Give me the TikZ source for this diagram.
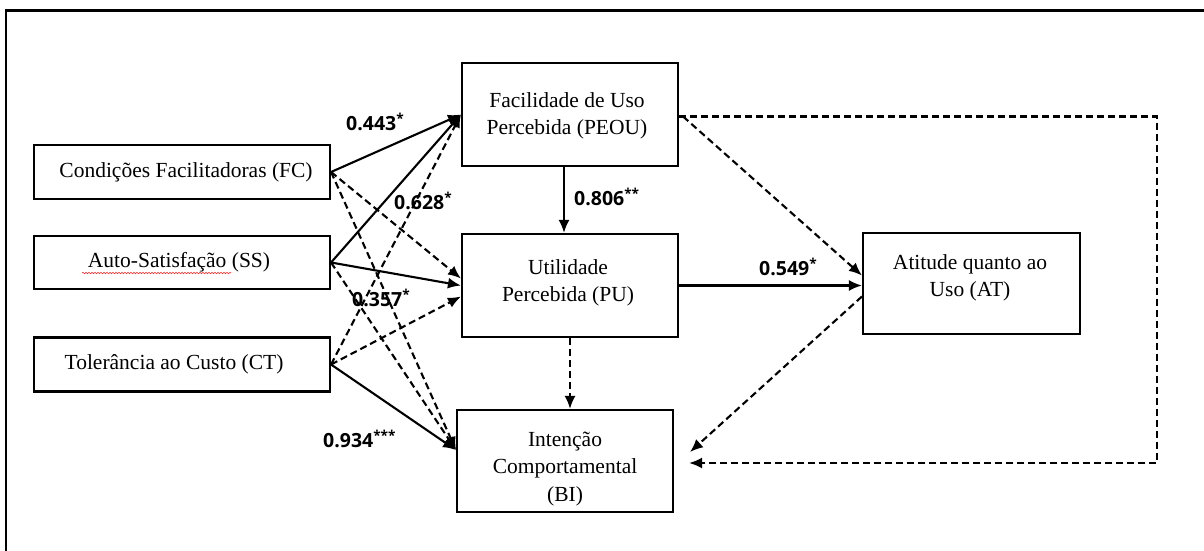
\documentclass[tikz,border=0pt]{standalone}
\usepackage{fontspec}
\setmainfont{Liberation Serif}
\newfontfamily\numfont{Open Sans}
\usetikzlibrary{arrows.meta,decorations.pathmorphing}
\begin{document}
\begin{tikzpicture}[x=1pt,y=-1pt,
  box/.style={draw, line width=2.1pt, rectangle, inner sep=0pt},
  boxtext/.style={align=center, inner sep=0pt,
    font=\fontsize{21.5}{27.5}\selectfont},
  solidarrow/.style={line width=2.1pt, -{Latex[length=13pt,width=11pt]}},
  dasharrow/.style={solidarrow, dash pattern=on 7pt off 4pt},
  coef/.style={font=\numfont\bfseries\fontsize{19.5}{19.5}\selectfont,
    anchor=west, inner sep=0pt}]
\useasboundingbox (0,0) rectangle (1204,551);

% frame
\draw[line width=2.2pt] (6,551) -- (6,10.5) -- (1204,10.5);

% constructs (boxes)
\node[box, minimum width=296pt, minimum height=54pt] (fc) at (182,172) {};
\node[box, minimum width=296pt, minimum height=53pt] (ss) at (182,262.5) {};
\node[box, minimum width=296pt, minimum height=54pt] (ct) at (182,364.5) {};
\node[box, minimum width=216pt, minimum height=103pt] (peou) at (570,114.5) {};
\node[box, minimum width=216pt, minimum height=103pt] (pu) at (570,285.5) {};
\node[box, minimum width=216pt, minimum height=102pt] (bi) at (565,461) {};
\node[box, minimum width=217pt, minimum height=101pt] (at) at (971.5,283.5) {};

% construct names
\node[boxtext] (fct) at (186,172) {Condições Facilitadoras (FC)};
\node[boxtext] (sst) at (179,262) {Auto-Satisfação (SS)};
\node[boxtext] (ctt) at (174,364) {Tolerância ao Custo (CT)};
\node[boxtext] (peout) at (567,116) {Facilidade de Uso\\Percebida (PEOU)};
\node[boxtext] (put) at (568,283) {Utilidade\\Percebida (PU)};
\node[boxtext] (bit) at (565,469) {Intenção\\Comportamental\\(BI)};
\node[boxtext] (att) at (970,278) {Atitude quanto ao\\Uso (AT)};

% spell-check underline
\draw[red!85!white, line width=0.6pt, decorate,
  decoration={snake, segment length=3pt, amplitude=0.7pt}] (82,273) -- (231,273);

% external variables
\draw[solidarrow] (fc.east) -- (peou.west);
\draw[dasharrow] (fc.east) -- ([yshift=7pt]pu.west);
\draw[dasharrow] (fc.east) -- ([yshift=11pt]bi.west);
\draw[solidarrow] (ss.east) -- (peou.west);
\draw[solidarrow] (ss.east) -- (pu.west);
\draw[dasharrow] (ss.east) -- ([yshift=11pt]bi.west);
\draw[dasharrow] (ct.east) -- (peou.west);
\draw[dasharrow] (ct.east) -- ([yshift=-11pt]pu.west);
\draw[solidarrow] (ct.east) -- ([yshift=11pt]bi.west);

% TAM core
\draw[solidarrow] ([xshift=-6pt]peou.south) -- ([xshift=-6pt]pu.north);
\draw[dasharrow] (pu.south) -- (pu.south |- bi.north);
\draw[solidarrow] (pu.east) -- (pu.east -| at.west);
\draw[dasharrow] ([xshift=4pt,yshift=-2pt]peou.east) -- ([yshift=8pt]at.west);
\coordinate (bitip) at ([xshift=16pt,yshift=9pt]bi.east);
\draw[dasharrow] ([yshift=-13pt]at.west) -- (bitip);
\coordinate (corner) at (1157,463);
\coordinate (bireturn) at ([xshift=15pt]bi.east);
\draw[dasharrow] ([yshift=-2pt]peou.east) -| (corner) -- (corner -| bireturn);

% path coefficients
\node[coef] (c1) at (346,122) {0.443\textsuperscript{*}};
\node[coef] (c2) at (394,201) {0.628\textsuperscript{*}};
\node[coef] (c3) at (352,298) {0.357\textsuperscript{*}};
\node[coef] (c4) at (323,439) {0.934\textsuperscript{***}};
\node[coef] (c5) at (574,197) {0.806\textsuperscript{**}};
\node[coef] (c6) at (759,267) {0.549\textsuperscript{*}};
\end{tikzpicture}
\end{document}
